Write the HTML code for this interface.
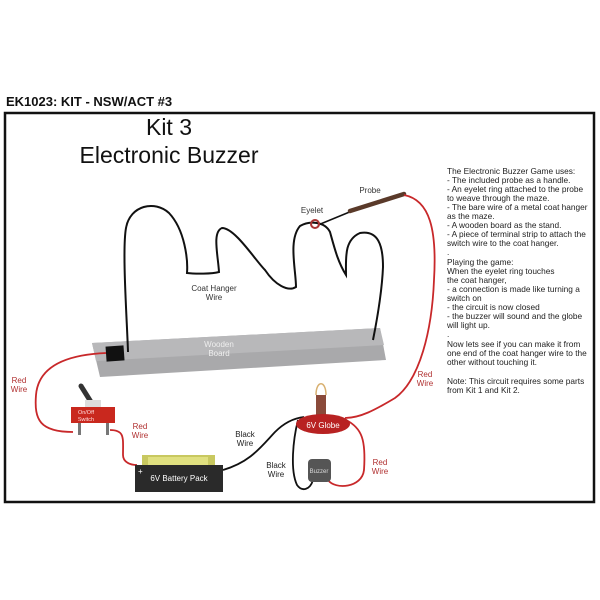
<!DOCTYPE html>
<html><head><style>
html,body{margin:0;padding:0;background:#fff;}
svg{display:block;font-family:"Liberation Sans",Arial,sans-serif;}
</style></head><body>
<svg width="600" height="600" viewBox="0 0 600 600" xmlns="http://www.w3.org/2000/svg">
<rect width="600" height="600" fill="#fff"/>
<text x="6" y="106" font-size="13" font-weight="bold" fill="#111">EK1023: KIT - NSW/ACT #3</text>
<rect x="5" y="113" width="589" height="389" fill="#fff" stroke="#111" stroke-width="2.5"/>
<text x="169" y="135" font-size="23" text-anchor="middle" fill="#111">Kit 3</text>
<text x="169" y="163" font-size="23" text-anchor="middle" fill="#111">Electronic Buzzer</text>

<g font-size="8.3" fill="#222">
<text x="447" y="174">The Electronic Buzzer Game uses:</text>
<text x="447" y="183">- The included probe as a handle.</text>
<text x="447" y="192">- An eyelet ring attached to the probe</text>
<text x="447" y="201">to weave through the maze.</text>
<text x="447" y="210">- The bare wire of a metal coat hanger</text>
<text x="447" y="219">as the maze.</text>
<text x="447" y="228">- A wooden board as the stand.</text>
<text x="447" y="237">- A piece of terminal strip to attach the</text>
<text x="447" y="246">switch wire to the coat hanger.</text>
<text x="447" y="255">.</text>
<text x="447" y="265">Playing the game:</text>
<text x="447" y="274">When the eyelet ring touches</text>
<text x="447" y="283">the coat hanger,</text>
<text x="447" y="292">- a connection is made like turning a</text>
<text x="447" y="301">switch on</text>
<text x="447" y="310">- the circuit is now closed</text>
<text x="447" y="319">- the buzzer will sound and the globe</text>
<text x="447" y="328">will light up.</text>
<text x="447" y="337">.</text>
<text x="447" y="347">Now lets see if you can make it from</text>
<text x="447" y="356">one end of the coat hanger wire to the</text>
<text x="447" y="365">other without touching it.</text>
<text x="447" y="384">Note: This circuit requires some parts</text>
<text x="447" y="393">from Kit 1 and Kit 2.</text>
</g>

<!-- board -->
<polygon points="92,343 380,328 386,360 100,377" fill="#a9a9ab"/>
<polygon points="92,343 380,328 384,345 96,361" fill="#b8b8ba"/>
<text x="219" y="347" font-size="8" fill="#eee" text-anchor="middle">Wooden</text>
<text x="219" y="356" font-size="8" fill="#eee" text-anchor="middle">Board</text>
<rect x="106" y="346" width="18" height="15" fill="#111" transform="rotate(-4 115 353)"/>

<!-- coat hanger -->
<path d="M128,352 C127,320 122,250 126,228 C130,205 155,200 169,213 C185,230 188,260 187,273 C195,274 212,274 219,272 C218,255 212,232 222,228 C235,228 255,260 265,270 C275,285 288,292 296,287 C296,270 288,240 300,226 C310,220 325,222 330,232 C335,250 338,262 346,275 C346,258 344,240 360,233 C378,230 383,245 383,267 C382,290 377,320 373,340" fill="none" stroke="#111" stroke-width="2"/>
<!-- probe -->
<line x1="318" y1="225" x2="352" y2="211" stroke="#111" stroke-width="1.5"/>
<line x1="350" y1="211" x2="404" y2="194" stroke="#5a3a2a" stroke-width="4.5" stroke-linecap="round"/>
<circle cx="315" cy="224" r="4" fill="none" stroke="#a33" stroke-width="2"/>
<text x="370" y="193" font-size="8" fill="#333" text-anchor="middle">Probe</text>
<text x="312" y="213" font-size="8" fill="#333" text-anchor="middle">Eyelet</text>
<text x="214" y="291" font-size="8" fill="#333" text-anchor="middle">Coat Hanger</text>
<text x="214" y="300" font-size="8" fill="#333" text-anchor="middle">Wire</text>

<!-- red wires -->
<g fill="none" stroke="#c8282a" stroke-width="1.8">
<path d="M404,195 C430,200 437,230 434,280 C432,330 420,380 395,398 C375,410 360,418 345,418"/>
<path d="M106,353 C60,355 38,370 36,395 C34,420 40,432 73,432"/>
<path d="M110,430 C125,430 123,438 123,455 C123,462 130,465 137,465"/>
<path d="M346,420 C362,428 366,440 364,470 C362,488 335,490 328,480"/>
</g>
<g fill="none" stroke="#111" stroke-width="1.8">
<path d="M223,470 C250,462 260,448 275,432 C285,422 295,418 304,417"/>
<path d="M298,420 C293,440 290,470 297,485 C302,492 310,490 313,480"/>
</g>

<!-- switch -->
<line x1="81" y1="386" x2="91" y2="402" stroke="#333" stroke-width="5" stroke-linecap="round"/>
<rect x="85" y="400" width="16" height="8" fill="#ddd"/>
<rect x="71" y="407" width="44" height="16" fill="#c9281e"/>
<text x="86" y="414" font-size="5.5" fill="#fdd" text-anchor="middle">On/Off</text>
<text x="86" y="421" font-size="5.5" fill="#fdd" text-anchor="middle">Switch</text>
<rect x="78" y="423" width="3" height="12" fill="#777"/>
<rect x="106" y="423" width="3" height="12" fill="#777"/>

<!-- battery -->
<rect x="142" y="455" width="73" height="12" fill="#c8c860"/>
<rect x="148" y="457" width="60" height="8" fill="#e0e080"/>
<rect x="135" y="465" width="88" height="27" fill="#2a2a2a"/>
<text x="179" y="481" font-size="8" fill="#fff" text-anchor="middle">6V Battery Pack</text>
<text x="138" y="474" font-size="8" fill="#fff">+</text>

<!-- globe -->
<path d="M316,395 C316,380 326,380 326,395" fill="none" stroke="#d8b070" stroke-width="1.5"/>
<rect x="316" y="395" width="10" height="22" fill="#8a4a3a"/>
<ellipse cx="323" cy="424" rx="27" ry="10" fill="#b82222"/>
<text x="323" y="428" font-size="8" fill="#fff" text-anchor="middle">6V Globe</text>

<!-- buzzer -->
<rect x="308" y="459" width="23" height="23" rx="4" fill="#555"/>
<text x="319" y="473" font-size="6" fill="#ddd" text-anchor="middle">Buzzer</text>

<!-- labels -->
<g font-size="8" fill="#b03030" text-anchor="middle">
<text x="19" y="383">Red</text><text x="19" y="392">Wire</text>
<text x="140" y="429">Red</text><text x="140" y="438">Wire</text>
<text x="380" y="465">Red</text><text x="380" y="474">Wire</text>
<text x="425" y="377">Red</text><text x="425" y="386">Wire</text>
</g>
<g font-size="8" fill="#222" text-anchor="middle">
<text x="245" y="437">Black</text><text x="245" y="446">Wire</text>
<text x="276" y="468">Black</text><text x="276" y="477">Wire</text>
</g>
</svg>
</body></html>
